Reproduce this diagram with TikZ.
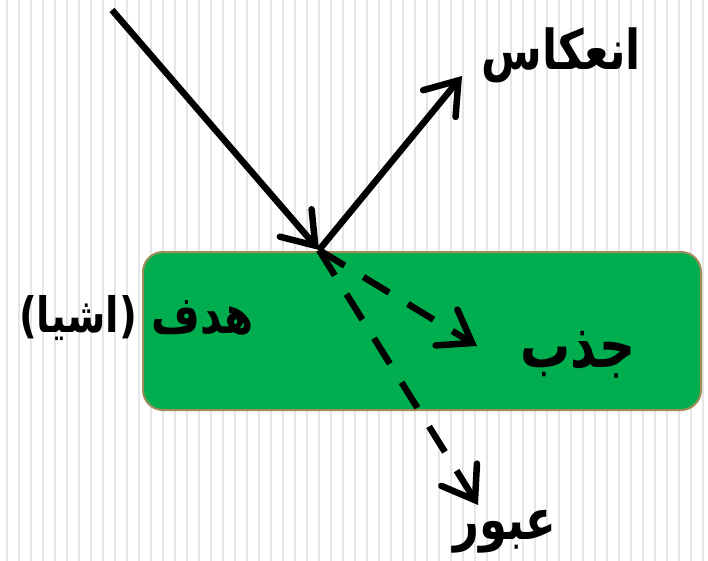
\documentclass[tikz,border=0pt]{standalone}
\usepackage{fontspec}
\usetikzlibrary{arrows.meta}
\newfontfamily\arabicfont[Script=Arabic]{DejaVu Sans}
\TeXXeTstate=1
\definecolor{boxgreen}{HTML}{00AE50}
\definecolor{boxedge}{HTML}{A08C5A}
\definecolor{stripe}{HTML}{E6E6E6}
\newcommand\artxt[2]{\scalebox{1}[1.25]{\arabicfont\bfseries\fontsize{#1}{#1}\selectfont #2}}
\begin{document}
\begin{tikzpicture}[x=1pt,y=-1pt,
  ray/.style={line width=6.5pt, -{Straight Barb[length=30pt 0,width=42pt 0,line cap=round,line join=miter]}},
  dray/.style={ray, dash pattern=on 30pt off 22pt},
  lbl/.style={inner sep=0pt}]
\useasboundingbox (0,0) rectangle (708,561);
\fill[white] (0,0) rectangle (708,561);
\foreach \i in {0,...,58} \fill[stripe] ({5.7+12*\i},0) rectangle ++(2,561);
\node[draw=boxedge, line width=2pt, fill=boxgreen, rounded corners=20pt,
  minimum width=558pt, minimum height=158pt, anchor=north west] (obj) at (142,251) {};
\coordinate (src) at (112,10);
\coordinate (hit) at (319,250);
\coordinate (refl) at (462,76);
\coordinate (abs) at (477,346);
\coordinate (trans) at (478,505);
\draw[ray] (src) -- (hit);
\draw[ray] (hit) -- (refl);
\draw[dray] (hit) -- (abs);
\draw[dray] (hit) -- (trans);
\node[lbl] (tr) at (561,55) {\artxt{44}{\beginR انعکاس\endR}};
\node[lbl] (ab) at (578,355) {\artxt{50}{\beginR جذب\endR}};
\node[lbl] (tm) at (505,532) {\artxt{45}{\beginR عبور\endR}};
\node[lbl] (tg) at (203,318) {\artxt{42}{\beginR هدف\endR}};
\node[lbl] (tg2) at (78,318) {\artxt{39}{)\beginR اشیا\endR(}};
\end{tikzpicture}
\end{document}
